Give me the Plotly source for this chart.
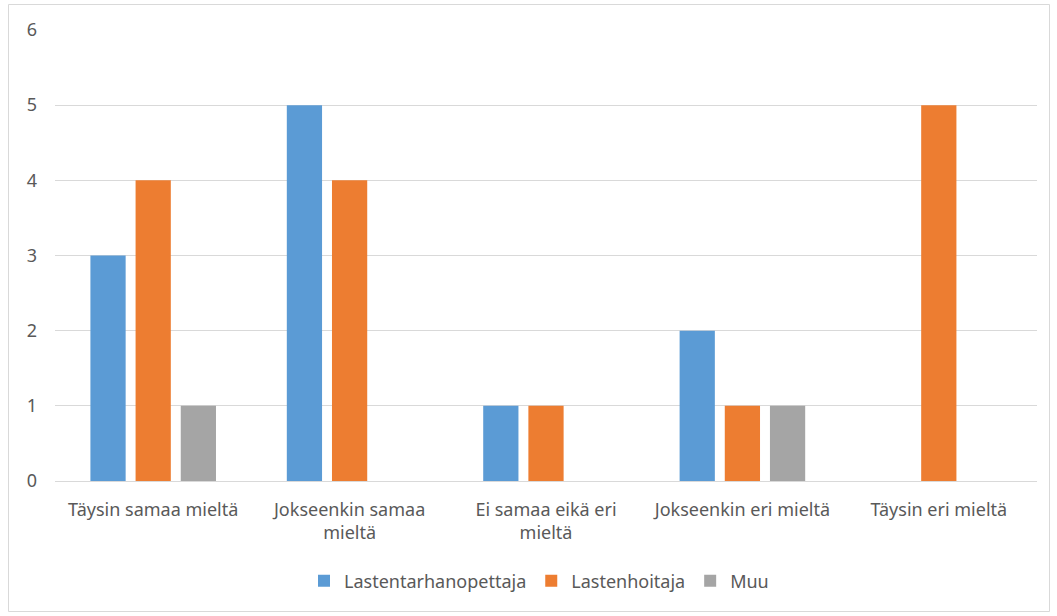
import plotly.graph_objects as go

categories = ["Täysin samaa mieltä", "Jokseenkin samaa<br>mieltä", "Ei samaa eikä eri<br>mieltä",
              "Jokseenkin eri mieltä", "Täysin eri mieltä"]
lastentarhanopettaja = [3, 5, 1, 2, 0]
lastenhoitaja = [4, 4, 1, 1, 5]
muu = [1, 0, 0, 1, 0]

series = [("Lastentarhanopettaja", lastentarhanopettaja, "#5B9BD5"),
          ("Lastenhoitaja", lastenhoitaja, "#ED7D31"),
          ("Muu", muu, "#A5A5A5")]

fig = go.Figure()
for name, vals, col in series:
    fig.add_trace(go.Bar(x=categories, y=vals, name=name, marker=dict(color=col, line=dict(width=0))))

L, R, T, B = 55, 20, 30, 135
W, H = 1057, 616
pw, ph = W - L - R, H - T - B

def px_x(p):
    return (p - L) / pw

def px_y(p):
    return (H - B - p) / ph

fig.add_shape(type="rect", xref="paper", yref="paper",
              x0=px_x(8.5), x1=px_x(1049.5), y0=px_y(611.5), y1=px_y(4.5),
              line=dict(color="#D9D9D9", width=1), fillcolor="rgba(0,0,0,0)", layer="below")

FS = 18
fig.update_layout(
    width=W, height=H,
    margin=dict(l=L, r=R, t=T, b=B),
    paper_bgcolor="white", plot_bgcolor="white",
    barmode="group", bargap=0.31, bargroupgap=0.22,
    font=dict(family="Noto Sans", size=FS, color="#595959"),
    legend=dict(orientation="h", x=px_x(539), xanchor="center", y=px_y(581), yanchor="middle",
                font=dict(size=FS, color="#595959"), itemwidth=30, traceorder="normal"),
    xaxis=dict(showgrid=False, showline=True, linecolor="#D9D9D9", linewidth=1,
               ticks="", tickfont=dict(size=FS, color="#595959"), ticklabelstandoff=12),
    yaxis=dict(range=[0, 6], dtick=1, showgrid=True, gridcolor="#D9D9D9", gridwidth=1,
               zeroline=False, showline=False, ticks="", tickfont=dict(size=FS, color="#595959"),
               ticklabelstandoff=17),
)

fig.write_html("out.html", config={"displayModeBar": False},
               post_script="document.body.style.margin='0px';")
